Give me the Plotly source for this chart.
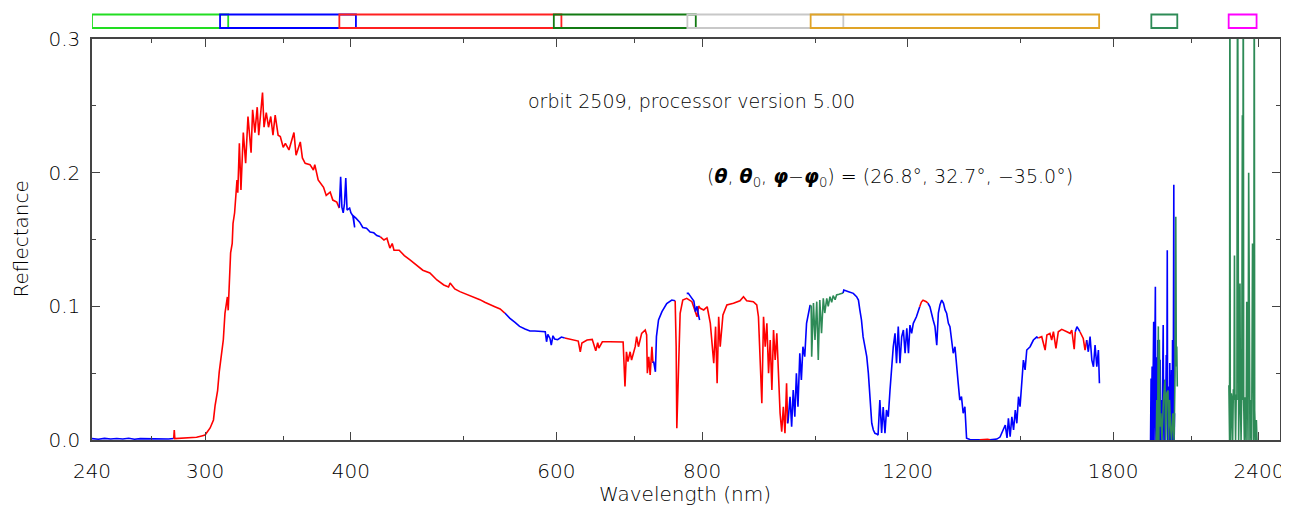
import math
import plotly.graph_objects as go

# ---------------- data (wavelength in nm, reflectance) ----------------
seg01_wl = [240, 243, 246, 249, 252, 255, 258, 261, 264, 267, 270, 273, 276, 279, 282]
seg01_r = [0.0010, 0.0006, 0.0012, 0.0007, 0.0011, 0.0008, 0.0013, 0.0006, 0.0010, 0.0009, 0.0012, 0.0007, 0.0010, 0.0008, 0.0011]

seg02_wl = [282.0, 282.3, 282.6, 285, 290, 295, 298, 300, 303, 305, 306, 307.5, 308.5, 309.5, 311, 312,
            313.5, 314, 315, 315.5, 316.5, 317, 318, 318.7, 319.5, 320, 321, 322, 323.5, 325, 326.5, 328.5,
            329.5, 331, 332.5, 333.5, 335, 336, 337, 338.5, 340, 341.5, 343, 344.5, 346.5, 348, 350, 351.5,
            354, 356.5, 357.5, 359, 361, 362, 363.5, 365.5, 369, 371.5, 372.5, 375, 379, 381, 384, 386, 389, 391]
seg02_r = [0.001, 0.0075, 0.001, 0.0012, 0.0015, 0.002, 0.003, 0.0037, 0.009, 0.015, 0.026, 0.037, 0.051, 0.062, 0.075, 0.0948,
           0.107, 0.097, 0.120, 0.140, 0.147, 0.162, 0.170, 0.182, 0.1945, 0.185, 0.222, 0.187, 0.230, 0.207, 0.242, 0.215,
           0.247, 0.230, 0.249, 0.228, 0.245, 0.260, 0.234, 0.245, 0.234, 0.242, 0.228, 0.243, 0.228, 0.227, 0.219, 0.222,
           0.217, 0.227, 0.230, 0.213, 0.221, 0.223, 0.211, 0.207, 0.206, 0.202, 0.206, 0.1945, 0.189, 0.183, 0.1855, 0.1795, 0.178, 0.1735]

seg03_wl = [391, 392, 393, 394, 395, 396, 397, 399, 400, 402, 403, 401.5, 404, 407, 409.5, 412.5, 415.5, 418.5, 421, 424]
seg03_r = [0.174, 0.197, 0.174, 0.170, 0.177, 0.196, 0.172, 0.1735, 0.170, 0.167, 0.159, 0.168, 0.166, 0.163, 0.159, 0.1585, 0.1556, 0.155, 0.153, 0.152]

seg04_wl = [424, 427, 429.5, 432, 434, 435.5, 440, 444.5, 449.5, 455.5, 461, 467.5, 474, 480.5, 485, 486.5,
            491, 496, 501, 506, 511, 516, 521, 526.5, 532, 537, 542]
seg04_r = [0.152, 0.1496, 0.151, 0.1436, 0.147, 0.142, 0.142, 0.138, 0.1347, 0.131, 0.127, 0.125, 0.1197, 0.116, 0.1145, 0.1175,
           0.113, 0.111, 0.1095, 0.108, 0.1065, 0.105, 0.103, 0.101, 0.0995, 0.098, 0.095]

seg05_wl = [542, 547.5, 553, 558, 564, 569.5, 575, 581, 587, 588.5, 590, 592.5, 594, 596, 598, 601.5, 606, 610]
seg05_r = [0.095, 0.091, 0.088, 0.085, 0.083, 0.0815, 0.0815, 0.0815, 0.081, 0.0735, 0.079, 0.076, 0.071, 0.078, 0.0755, 0.075, 0.077, 0.0763]

seg06_wl = [610, 616.5, 622.5, 626.5, 629, 631, 637.5, 644, 648.5, 651, 652.5, 657, 667, 680, 684.5, 687,
            689, 691, 694, 696, 701, 703, 705.5, 710, 715, 717, 718, 720, 722, 724.5, 726]
seg06_r = [0.0763, 0.0756, 0.0748, 0.074, 0.066, 0.0726, 0.0748, 0.0753, 0.0668, 0.0728, 0.0688, 0.0735, 0.0735, 0.0733, 0.0733, 0.040,
           0.066, 0.0586, 0.066, 0.0598, 0.0698, 0.0773, 0.0698, 0.0798, 0.0823, 0.0786, 0.050, 0.0623, 0.0486, 0.0698, 0.0576]

seg07_wl = [726, 727, 729.5, 731, 734, 739, 746, 753.5, 758.5]
seg07_r = [0.0576, 0.0586, 0.051, 0.0773, 0.0898, 0.096, 0.102, 0.1047, 0.1042]

seg08_wl = [758.5, 760, 761, 762.5, 765, 766, 770, 776, 784, 789.5, 792, 794.5, 797, 802.5, 808, 813,
            816, 818.5, 821.5, 824, 826.5, 829, 833.5, 840, 851, 862, 868, 873.5, 885, 891, 894, 897,
            900, 903, 906, 909, 912, 915, 918, 921, 924, 927, 930, 933, 936, 939, 942, 945, 947]
seg08_r = [0.1042, 0.0698, 0.0088, 0.0324, 0.0798, 0.0948, 0.1047, 0.106, 0.1035, 0.0948, 0.0922, 0.1002, 0.0985, 0.0973, 0.0997, 0.0873,
           0.0723, 0.0574, 0.0848, 0.0424, 0.0922, 0.0698, 0.0935, 0.101, 0.1023, 0.1042, 0.1072, 0.1042, 0.1035, 0.101, 0.0922, 0.0574,
           0.0275, 0.0922, 0.0698, 0.0873, 0.050, 0.0748, 0.0374, 0.0823, 0.0598, 0.0798, 0.0449, 0.020, 0.0062, 0.0249, 0.005, 0.0424, 0.0125]

seg08b_wl = [776, 778.5, 781, 784, 787, 789.5, 792, 794, 796]
seg08b_r = [0.1097, 0.1097, 0.108, 0.106, 0.104, 0.096, 0.100, 0.094, 0.0898]

seg09_wl = [947, 948, 951.5, 954.5, 957.5, 960.5, 963.5, 966.5, 970, 973, 976, 979.5, 983, 986, 990]
seg09_r = [0.0125, 0.015, 0.0324, 0.010, 0.0374, 0.0174, 0.050, 0.0249, 0.0649, 0.0449, 0.0698, 0.0623, 0.0873, 0.0922, 0.101]

seg10_wl = [990, 992, 993, 996.5, 999.5, 1003, 1006, 1009, 1012.5, 1016, 1019, 1023, 1026, 1029.5, 1033, 1036,
            1040, 1043, 1048, 1052, 1056.5]
seg10_r = [0.101, 0.100, 0.0623, 0.1025, 0.0748, 0.1035, 0.0598, 0.1047, 0.0798, 0.106, 0.095, 0.106, 0.100, 0.1072, 0.103, 0.108,
           0.105, 0.1085, 0.109, 0.1095, 0.110]

seg11_wl = [1056.5, 1058, 1068, 1078, 1085, 1089, 1092, 1095.5, 1099, 1103, 1107, 1110.5, 1114, 1118, 1121.5, 1125,
            1129, 1132, 1136, 1140, 1143.5, 1147.5, 1151, 1155, 1159, 1163, 1166.5, 1170.5, 1174, 1178, 1182, 1186,
            1190, 1194, 1198, 1202, 1205.5, 1209.5, 1213.5, 1221, 1229]
seg11_r = [0.110, 0.1122, 0.111, 0.1097, 0.1072, 0.1047, 0.0973, 0.0898, 0.0773, 0.0698, 0.0623, 0.050, 0.0324, 0.0125, 0.0075, 0.005,
           0.0045, 0.0037, 0.0299, 0.0052, 0.0247, 0.005, 0.0224, 0.0174, 0.0374, 0.0598, 0.0698, 0.0798, 0.0574, 0.0848, 0.0574, 0.0773,
           0.0823, 0.0649, 0.0836, 0.0649, 0.086, 0.0798, 0.0873, 0.0922, 0.0997]

seg12_wl = [1229, 1233, 1237, 1241, 1245, 1249]
seg12_r = [0.0997, 0.1032, 0.1045, 0.104, 0.1035, 0.1023]

seg13_wl = [1249, 1254, 1262, 1266.5, 1271, 1275, 1279, 1283.5, 1288, 1292, 1296, 1300.5, 1304.5, 1309, 1313, 1317.5,
            1322, 1326, 1330, 1334.5, 1339, 1343.5, 1348, 1357, 1370, 1384]
seg13_r = [0.1023, 0.0997, 0.0898, 0.0848, 0.071, 0.095, 0.101, 0.1047, 0.1023, 0.0973, 0.0948, 0.0873, 0.0848, 0.0748, 0.0649, 0.0698,
           0.0524, 0.0424, 0.0299, 0.0324, 0.020, 0.0249, 0.0013, 0.0004, 0.0002, 0.0002]

seg14_wl = [1384, 1391, 1398, 1405, 1412]
seg14_r = [0.0002, 0.0004, 0.0003, 0.0005, 0.0002]

seg15_wl = [1412, 1431, 1440, 1450, 1455, 1460, 1464, 1469, 1474, 1479, 1484, 1488.5, 1493.5, 1498, 1503, 1508,
            1513, 1518, 1528, 1538, 1548, 1553]
seg15_r = [0.0002, 0.0007, 0.0022, 0.0075, 0.0112, 0.0015, 0.0162, 0.0025, 0.0174, 0.0075, 0.0224, 0.0125, 0.0324, 0.0249, 0.0449, 0.0598,
           0.0524, 0.0673, 0.0698, 0.0748, 0.077, 0.0763]

seg16_wl = [1553, 1563.5, 1574, 1579.5, 1589, 1594.5, 1600, 1608, 1615.5, 1626.5, 1643, 1653.5, 1659, 1667, 1670.5]
seg16_r = [0.0763, 0.0773, 0.0673, 0.0786, 0.0798, 0.0748, 0.081, 0.0686, 0.081, 0.0828, 0.081, 0.0798, 0.0823, 0.0679, 0.081]

seg17_wl = [1670.5, 1676, 1681, 1686]
seg17_r = [0.081, 0.0848, 0.083, 0.081]

seg18_wl = [1686, 1697, 1703, 1708.5]
seg18_r = [0.081, 0.076, 0.0673, 0.0748]

seg19_wl = [1708.5, 1714, 1720, 1726, 1731.5, 1737, 1743, 1748.5, 1752]
seg19_r = [0.0748, 0.066, 0.0773, 0.0598, 0.0548, 0.071, 0.0548, 0.0673, 0.0424]

seg20_wl = [1938, 1940, 1941, 1942, 1943, 1944, 1945, 1946.5, 1948, 1950, 1951.5, 1953, 1954, 1955, 1956.5, 1958,
            1959, 1960, 1961, 1962, 1963.5, 1965, 1966, 1967, 1968.5, 1970, 1971, 1972.5, 1974, 1975, 1976.5, 1978,
            1980.5, 1982, 1983, 1985, 1987, 1988.5, 1990, 1992, 1994, 1995.5, 1997, 1998, 1999, 2001, 2003, 2004.5,
            2006, 2008, 2010, 2011.5, 2013, 2014.5, 2016, 2018, 2020, 2022, 2024, 2025, 2026.5, 2028, 2029, 2030.5, 2032]
seg20_r = [0.0, 0.046, 0.0, 0.040, 0.0, 0.055, 0.01, 0.0, 0.05, 0.0885, 0.0, 0.04, 0.0, 0.060, 0.1147, 0.01,
           0.0, 0.05, 0.062, 0.0, 0.008, 0.045, 0.0748, 0.02, 0.0, 0.05, 0.045, 0.0, 0.036, 0.06, 0.0, 0.03,
           0.030, 0.0, 0.004, 0.05, 0.086, 0.02, 0.0, 0.045, 0.0374, 0.0, 0.05, 0.0, 0.0636, 0.02, 0.142, 0.0,
           0.0, 0.04, 0.030, 0.0, 0.0576, 0.01, 0.0, 0.05, 0.0524, 0.0, 0.0748, 0.03, 0.0, 0.06, 0.191, 0.0, 0.02]

seg21_wl = [1960, 1962, 1965, 1968, 1970, 1972, 1975, 1978, 1982, 1988, 1994, 1996, 2001, 2006, 2008, 2012,
            2016, 2020, 2025, 2030, 2034, 2037, 2039, 2041, 2043]
seg21_r = [0.0, 0.03, 0.0, 0.085, 0.0, 0.075, 0.01, 0.02, 0.0, 0.03, 0.045, 0.0, 0.035, 0.037, 0.0, 0.03,
           0.01, 0.0, 0.02, 0.0, 0.05, 0.167, 0.055, 0.07, 0.04]

seg22_wl = [2262, 2263, 2264, 2265, 2266.5, 2268, 2270, 2273, 2276, 2279, 2282, 2285, 2287, 2289, 2292, 2295,
            2298, 2301, 2303, 2306, 2309, 2312, 2314, 2317, 2320, 2323, 2325, 2327, 2329, 2332, 2336, 2340,
            2343, 2346, 2349, 2352, 2355, 2358, 2362, 2366, 2370, 2373, 2376, 2378, 2380, 2384, 2388, 2391]
seg22_r = [0.041, 0.191, 0.045, 0.0, 0.40, 0.040, 0.0, 0.035, 0.030, 0.0, 0.038, 0.030, 0.138, 0.035, 0.0, 0.034,
           0.030, 0.40, 0.032, 0.0, 0.036, 0.117, 0.030, 0.0, 0.033, 0.243, 0.030, 0.40, 0.028, 0.0, 0.032, 0.0,
           0.1035, 0.030, 0.0, 0.200, 0.028, 0.0, 0.030, 0.0, 0.147, 0.025, 0.0, 0.40, 0.022, 0.0, 0.015, 0.0]

segments = [
    (seg01_wl, seg01_r, "blue"), (seg02_wl, seg02_r, "red"), (seg03_wl, seg03_r, "blue"),
    (seg04_wl, seg04_r, "red"), (seg05_wl, seg05_r, "blue"), (seg06_wl, seg06_r, "red"),
    (seg07_wl, seg07_r, "blue"), (seg08_wl, seg08_r, "red"), (seg08b_wl, seg08b_r, "blue"),
    (seg09_wl, seg09_r, "blue"), (seg10_wl, seg10_r, "seagreen"), (seg11_wl, seg11_r, "blue"),
    (seg12_wl, seg12_r, "red"), (seg13_wl, seg13_r, "blue"), (seg14_wl, seg14_r, "red"),
    (seg15_wl, seg15_r, "blue"), (seg16_wl, seg16_r, "red"), (seg17_wl, seg17_r, "blue"),
    (seg18_wl, seg18_r, "red"), (seg19_wl, seg19_r, "blue"), (seg20_wl, seg20_r, "blue"),
    (seg21_wl, seg21_r, "seagreen"), (seg22_wl, seg22_r, "seagreen"),
]

# channel ranges (nm) shown as boxes above the plot
channel_lo = [240, 309, 391, 597, 777, 991, 1941, 2261]
channel_hi = [314, 404, 606, 790, 1057, 1751, 2043, 2389]
channel_col = ["#22dd22", "#0000ff", "#ff2020", "#137a13", "#c8c8c8", "#e0a428", "#2e8b57", "#ff00ff"]

x_tickvals = [240, 300, 400, 600, 800, 1200, 1800, 2400]
x_minorvals = [270, 350, 500, 700, 1000, 1500, 2100]
y_tickvals = [0.0, 0.1, 0.2, 0.3]
y_ticktext = ["0.0", "0.1", "0.2", "0.3"]
y_minorvals = [0.05, 0.15, 0.25]

COLORS = {"blue": "#0000ff", "red": "#ff0000", "seagreen": "#2e8b57"}

fig = go.Figure()
for wl, r, c in segments:
    if len(wl) != len(r):
        raise ValueError(f"length mismatch {len(wl)} vs {len(r)} ({wl[0]})")
    fig.add_trace(go.Scatter(x=wl, y=r, mode="lines",
                             line=dict(color=COLORS[c], width=1.6),
                             hoverinfo="skip", showlegend=False))

FONT = "DejaVu Sans"
TXT = "#000000"
WT = 300
AX = "#444444"

# page has an 8px body margin; plot area on the page: x 92..1280, y 39..440
PT, PB = 39, 440
def py2paper(py):
    return (PB - py) / (PB - PT)

for lo, hi, col in zip(channel_lo, channel_hi, channel_col):
    fig.add_shape(type="rect", xref="x", yref="paper", x0=lo, x1=hi,
                  y0=py2paper(28), y1=py2paper(14.5),
                  line=dict(color=col, width=1.8), fillcolor="rgba(0,0,0,0)")

fig.update_layout(
    width=1281, height=499,
    margin=dict(l=84, r=9, t=31, b=67, pad=0),
    paper_bgcolor="white", plot_bgcolor="white",
    font=dict(family=FONT, color=TXT, size=19, weight=WT),
    showlegend=False, hovermode=False,
)
fig.update_xaxes(
    type="log", range=[math.log10(240), math.log10(2502)], automargin=False,
    showgrid=False, zeroline=False, showline=True, linecolor=AX, linewidth=1.5, mirror="ticks",
    ticks="inside", ticklen=8, tickwidth=1.3, tickcolor=AX,
    tickmode="array", tickvals=x_tickvals, ticktext=[str(v) for v in x_tickvals],
    tickfont=dict(size=20, family=FONT, color=TXT, weight=WT), ticklabelstandoff=12,
    minor=dict(tickmode="array", tickvals=x_minorvals, ticks="inside", ticklen=4,
               tickwidth=1.3, tickcolor=AX, showgrid=False),
)
fig.update_yaxes(
    range=[0, 0.3], automargin=False,
    showgrid=False, zeroline=False, showline=True, linecolor=AX, linewidth=1.5, mirror="ticks",
    ticks="inside", ticklen=8, tickwidth=1.3, tickcolor=AX,
    tickmode="array", tickvals=y_tickvals, ticktext=y_ticktext,
    tickfont=dict(size=20, family=FONT, color=TXT, weight=WT), ticklabelstandoff=6,
    minor=dict(tickmode="array", tickvals=y_minorvals, ticks="inside", ticklen=4,
               tickwidth=1.3, tickcolor=AX, showgrid=False),
)

W = 1280 - 92
fig.add_annotation(text="Wavelength (nm)", xref="paper", yref="paper",
                   x=(685 - 92) / W, y=py2paper(494), showarrow=False,
                   xanchor="center", yanchor="middle", font=dict(size=20, weight=WT))
fig.add_annotation(text="Reflectance", xref="paper", yref="paper",
                   x=(20 - 92) / W, y=0.5, showarrow=False, textangle=-90,
                   xanchor="center", yanchor="middle", font=dict(size=20, weight=WT))
fig.add_annotation(text="orbit 2509, processor version 5.00", xref="paper", yref="paper",
                   x=(691 - 92) / W, y=py2paper(101), showarrow=False,
                   xanchor="center", yanchor="middle", font=dict(size=19, weight=WT))
fig.add_annotation(text="(<b><i>θ</i></b>, <b><i>θ</i></b><sub>0</sub>, <b><i>φ</i></b>−<b><i>φ</i></b><sub>0</sub>) = (26.8°, 32.7°, −35.0°)",
                   xref="paper", yref="paper",
                   x=(890 - 92) / W, y=py2paper(178), showarrow=False,
                   xanchor="center", yanchor="middle", font=dict(size=19, weight=WT))

fig.write_html("out.html")
